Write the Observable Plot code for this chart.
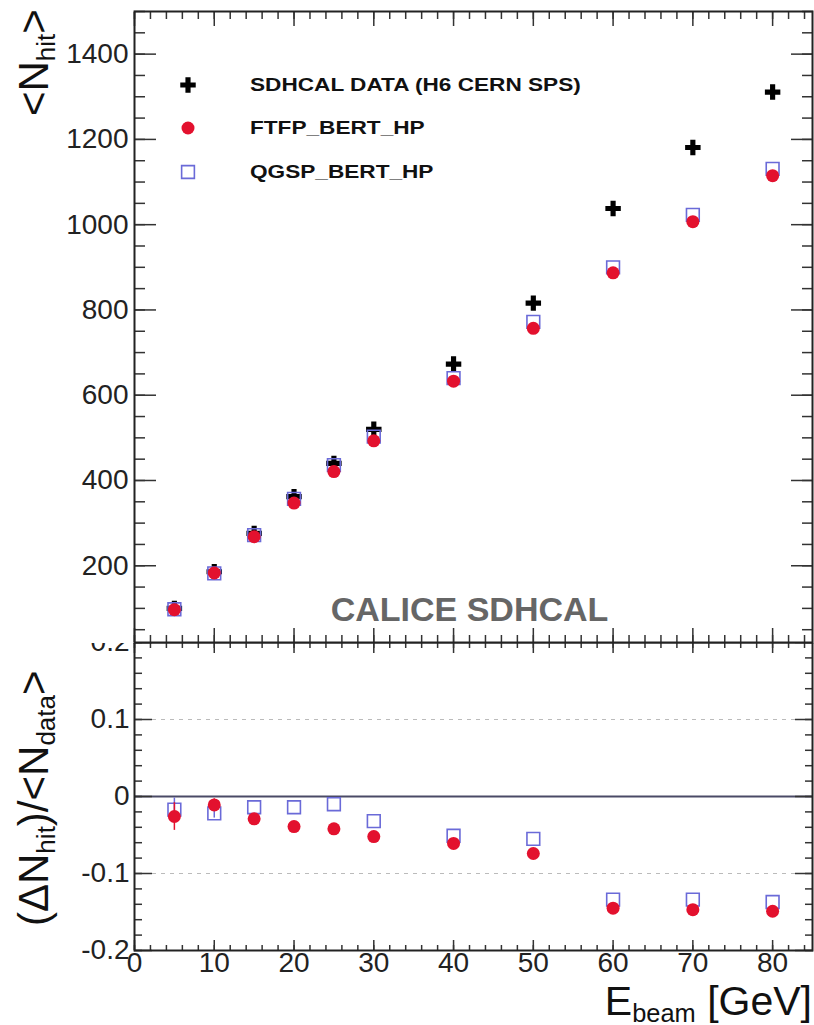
<!DOCTYPE html>
<html><head><meta charset="utf-8">
<script src="https://cdn.jsdelivr.net/npm/d3@7"></script>
<script src="https://cdn.jsdelivr.net/npm/@observablehq/plot@0.6"></script>
<style>
body{margin:0;background:#fff;font-family:"Liberation Sans",Arial,Helvetica,sans-serif;}
#wrap{position:relative;width:814px;height:1025px;overflow:hidden;background:#fff;}
.abs{position:absolute;}
.leg{position:absolute;left:250px;font-weight:bold;font-size:19px;color:#111;transform:scaleX(1.19);transform-origin:left center;white-space:nowrap;line-height:20px;}
.ytitle{position:absolute;white-space:nowrap;transform:rotate(-90deg);transform-origin:left top;color:#111;line-height:1.15;}
sub{font-size:0.62em;vertical-align:-0.28em;}
</style></head><body><div id="wrap"></div>
<script>
// ---- data ----
const energies   = [5, 10, 15, 20, 25, 30, 40, 50, 60, 70, 80];
const dataHits   = [100, 186, 276, 362, 440, 520, 673, 816, 1038, 1181, 1311];
const ftfpHits   = [97, 183, 268, 347, 421, 493, 633, 757, 887, 1007, 1115];
const qgspHits   = [98, 182, 272, 357, 436, 503, 640, 772, 900, 1023, 1131];
const ftfpRatio  = [-0.026, -0.011, -0.029, -0.039, -0.042, -0.052, -0.061, -0.074, -0.145, -0.147, -0.149];
const qgspRatio  = [-0.017, -0.022, -0.014, -0.014, -0.010, -0.032, -0.051, -0.055, -0.134, -0.134, -0.137];
const ftfpRatioErr = [0.018, 0.008, 0, 0, 0, 0, 0, 0, 0, 0, 0];
const qgspRatioErr = [0.015, 0.006, 0, 0, 0, 0, 0, 0, 0, 0, 0];
const xMajor = [0, 10, 20, 30, 40, 50, 60, 70, 80];
const xMinor = d3.range(0, 86, 2);
const yTopMajor = [200, 400, 600, 800, 1000, 1200, 1400];
const yTopMinor = d3.range(50, 1501, 50);
const yBotMajor = [-0.2, -0.1, 0, 0.1, 0.2];
const yBotMinor = d3.range(-10, 11).map(i => i * 0.02);
const legendLabels = ["SDHCAL DATA (H6 CERN SPS)", "FTFP_BERT_HP", "QGSP_BERT_HP"];

const RED = "#e3112e", BLUE = "#6a6ad8", AX = "#333";
const rows = energies.map((e, i) => ({e, data: dataHits[i], ftfp: ftfpHits[i], qgsp: qgspHits[i],
  fr: ftfpRatio[i], qr: qgspRatio[i], fe: ftfpRatioErr[i], qe: qgspRatioErr[i]}));

const wrap = document.getElementById("wrap");
const blank = () => "";
const fmtBot = d => d === 0 ? "0" : d3.format(".1f")(d).replace("\u2212", "-");

function tickAxes(xmaj, xmin, xMajLen, xMinLen, ymaj, ymin, yMajLen, yMinLen, topBottom) {
  const marks = [];
  for (const a of ["left", "right"]) {
    marks.push(Plot.axisY(ymin, {anchor: a, tickSize: -yMinLen, tickFormat: blank, label: null, stroke: AX, strokeWidth: 1.5}));
    marks.push(Plot.axisY(ymaj, {anchor: a, tickSize: -yMajLen, tickFormat: blank, label: null, stroke: AX, strokeWidth: 1.5}));
  }
  for (const a of topBottom) {
    marks.push(Plot.axisX(xmin, {anchor: a, tickSize: -xMinLen, tickFormat: blank, label: null, stroke: AX, strokeWidth: 1.5}));
    marks.push(Plot.axisX(xmaj, {anchor: a, tickSize: -xMajLen, tickFormat: blank, label: null, stroke: AX, strokeWidth: 1.5}));
  }
  return marks;
}

// ---- bottom panel (drawn first; top panel covers its upper edge) ----
const botPlot = Plot.plot({
  width: 814, height: 384,
  marginLeft: 134, marginRight: 2, marginTop: 1, marginBottom: 75,
  style: {fontFamily: "'Liberation Sans', Arial, sans-serif", background: "transparent", overflow: "visible"},
  x: {domain: [0, 85]},
  y: {domain: [-0.2, 0.2]},
  marks: [
    Plot.ruleY([-0.1, 0.1], {stroke: "#bbb", strokeDasharray: "4,5", strokeWidth: 1.2}),
    Plot.ruleY([0], {stroke: "#4a4a66", strokeWidth: 2.2}),
    ...tickAxes(xMajor, xMinor, 10, 5, yBotMajor, yBotMinor, 18, 8, ["top", "bottom"]),
    Plot.axisY(yBotMajor, {anchor: "left", tickSize: 0, tickPadding: 5, fontSize: 28, fill: "#222", label: null, tickFormat: fmtBot}),
    Plot.axisX(xMajor, {anchor: "bottom", tickSize: 0, tickPadding: 2, fontSize: 28, fill: "#222", label: null}),
    Plot.ruleX(rows.filter(d => d.qe > 0), {x: "e", y1: d => d.qr - d.qe, y2: d => d.qr + d.qe, stroke: BLUE, strokeWidth: 1.5}),
    Plot.dot(rows, {x: "e", y: "qr", symbol: "square", r: 7.2, fill: "none", stroke: BLUE, strokeWidth: 1.6}),
    Plot.ruleX(rows.filter(d => d.fe > 0), {x: "e", y1: d => d.fr - d.fe, y2: d => d.fr + d.fe, stroke: RED, strokeWidth: 1.5}),
    Plot.dot(rows, {x: "e", y: "fr", symbol: "circle", r: 6.5, fill: RED}),
    Plot.frame({stroke: "#222", strokeWidth: 2})
  ]
});
botPlot.style.position = "absolute"; botPlot.style.left = "0px"; botPlot.style.top = "641px";
wrap.appendChild(botPlot);

// ---- top panel ----
const topPlot = Plot.plot({
  width: 814, height: 643,
  marginLeft: 134, marginRight: 2, marginTop: 11, marginBottom: 1,
  style: {fontFamily: "'Liberation Sans', Arial, sans-serif", background: "#fff", overflow: "visible"},
  x: {domain: [0, 85]},
  y: {domain: [20, 1500]},
  marks: [
    ...tickAxes(xMajor, xMinor, 14, 7, yTopMajor, yTopMinor, 22, 11, ["top", "bottom"]),
    Plot.axisY(yTopMajor, {anchor: "left", tickSize: 0, tickPadding: 6, fontSize: 28, fill: "#222", label: null, tickFormat: d3.format("d")}),
    Plot.dot(rows, {x: "e", y: "data", symbol: "cross", r: 6.5, fill: "#000"}),
    Plot.dot(rows, {x: "e", y: "qgsp", symbol: "square", r: 7.2, fill: "none", stroke: BLUE, strokeWidth: 1.6}),
    Plot.dot(rows, {x: "e", y: "ftfp", symbol: "circle", r: 6.5, fill: RED}),
    Plot.text(["CALICE SDHCAL"], {frameAnchor: "bottom", dx: -4, dy: -22, fontSize: 34, fontWeight: "bold", fill: "#666"}),
    Plot.frame({stroke: "#222", strokeWidth: 2})
  ]
});
topPlot.style.position = "absolute"; topPlot.style.left = "0px"; topPlot.style.top = "0px";
wrap.appendChild(topPlot);

// ---- legend ----
const legendSyms = [
  {symbol: "cross", r: 6.5, fill: "#000", stroke: "none"},
  {symbol: "circle", r: 6.5, fill: RED, stroke: "none"},
  {symbol: "square", r: 7.2, fill: "none", stroke: BLUE}
];
const legY = [85, 128, 172];
legendLabels.forEach((lab, i) => {
  const s = legendSyms[i];
  const sym = d3.symbol(s.symbol === "cross" ? d3.symbolCross : s.symbol === "circle" ? d3.symbolCircle : d3.symbolSquare, Math.PI * s.r * s.r)();
  const div = document.createElement("div");
  div.className = "abs";
  div.style.left = "173px"; div.style.top = (legY[i] - 15) + "px";
  div.innerHTML = `<svg width="30" height="30"><path transform="translate(15,15)" d="${sym}" fill="${s.fill}" stroke="${s.stroke}" stroke-width="1.6"/></svg>`;
  wrap.appendChild(div);
  const t = document.createElement("div");
  t.className = "leg"; t.style.top = (legY[i] - 10) + "px"; t.textContent = lab;
  wrap.appendChild(t);
});

// ---- axis titles ----
const t1 = document.createElement("div");
t1.className = "ytitle"; t1.style.fontSize = "42px";
t1.style.left = "10px"; t1.style.top = "116px";
t1.innerHTML = "&lt;N<sub>hit</sub>&gt;";
wrap.appendChild(t1);

const t2 = document.createElement("div");
t2.className = "ytitle"; t2.style.fontSize = "42px";
t2.style.left = "10px"; t2.style.top = "926px";
t2.innerHTML = "(&Delta;N<sub>hit</sub>)/&lt;N<sub>data</sub>&gt;";
wrap.appendChild(t2);

const t3 = document.createElement("div");
t3.className = "abs"; t3.style.fontSize = "41px"; t3.style.right = "2px"; t3.style.top = "982px";
t3.style.whiteSpace = "nowrap"; t3.style.color = "#111"; t3.style.lineHeight = "0.95";
t3.innerHTML = "E<sub>beam</sub> [GeV]";
wrap.appendChild(t3);
</script>
</body></html>
